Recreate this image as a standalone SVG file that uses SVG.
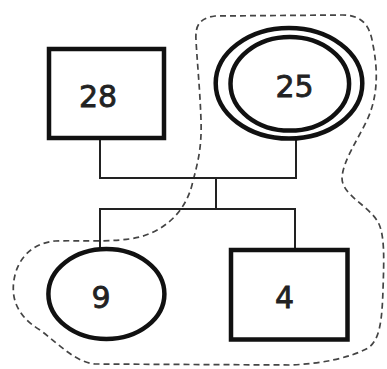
<svg xmlns="http://www.w3.org/2000/svg" width="387" height="369" viewBox="0 0 387 369">
<style>
.node{fill:#fff;stroke:#111;stroke-width:4.5}
.lbl{font-family:"DejaVu Sans",sans-serif;font-size:30px;fill:#222;stroke:#222;stroke-width:0.8;text-anchor:middle}
.conn{fill:none;stroke:#222;stroke-width:2}
.grp{fill:none;stroke:#444;stroke-width:1.7;stroke-dasharray:6 4}
</style>
<rect width="387" height="369" fill="#fff"/>
<path class="grp" d="M196,40 C195,25 200,18 215,16 L342,15 C362,15 370,25 373,45 C378,70 378,95 368,118 C358,140 343,160 342,178 C342,195 368,205 378,222 C385,235 384,260 383,290 C382,320 380,340 368,348 C350,358 320,364 290,365 L95,364 C75,362 60,345 40,330 C15,315 10,295 15,275 C20,255 35,243 55,241 C80,240 115,243 140,237 C165,230 185,212 192,185 C197,165 202,150 201,120 C200,90 197,60 196,40 Z"/>
<g id="connectors">
<polyline class="conn" points="100,140 100,178 296,178 296,140"/>
<line class="conn" x1="216" y1="178" x2="216" y2="209"/>
<polyline class="conn" points="100,248 100,209 295,209 295,248"/>
</g>
<g id="n28">
<rect class="node" x="49" y="49" width="115" height="89"/>
<text class="lbl" x="98" y="107">28</text>
</g>
<g id="n25">
<ellipse class="node" cx="289" cy="83.3" rx="73.3" ry="55.3" stroke-width="4"/>
<ellipse class="node" cx="289.8" cy="83.8" rx="59.3" ry="46.8" stroke-width="4"/>
<text class="lbl" x="294.5" y="97">25</text>
</g>
<g id="n9">
<ellipse class="node" cx="106.4" cy="294" rx="58" ry="45"/>
<text class="lbl" x="101" y="308">9</text>
</g>
<g id="n4">
<rect class="node" x="231" y="250" width="116.5" height="89.5" stroke-width="5"/>
<text class="lbl" x="284.5" y="308">4</text>
</g>
</svg>
